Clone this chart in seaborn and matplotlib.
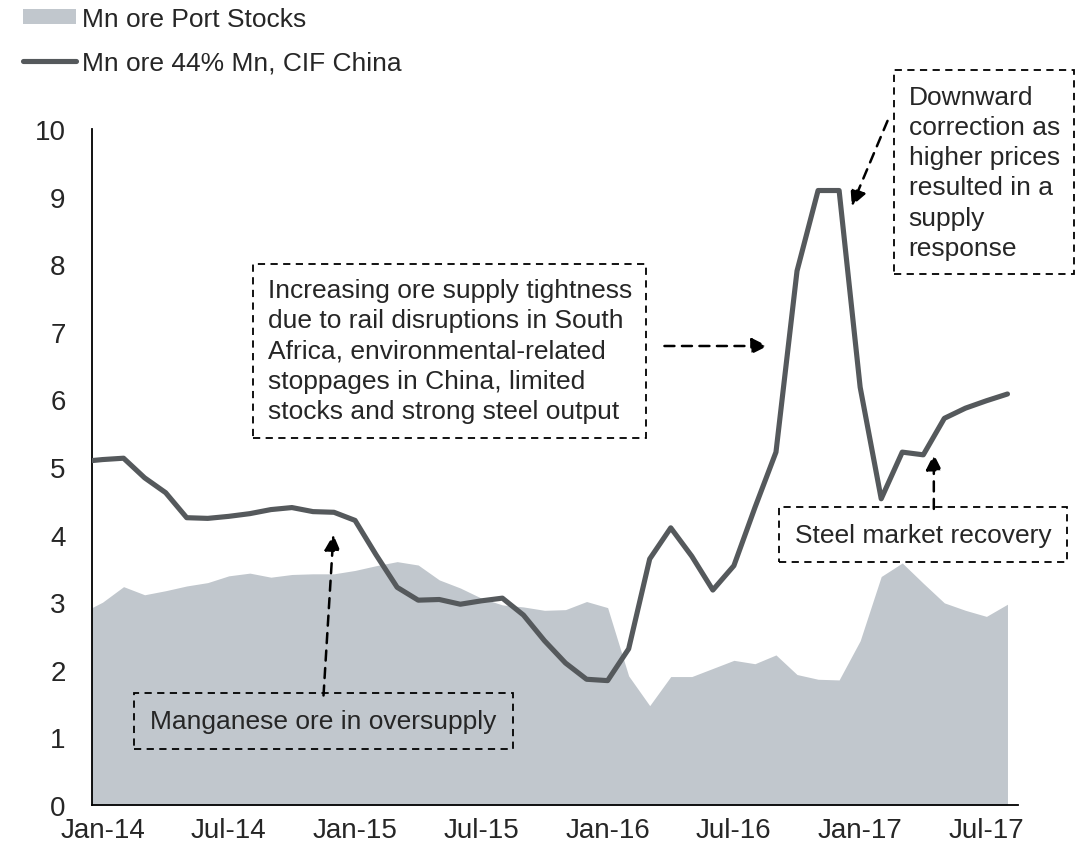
import matplotlib
matplotlib.use("Agg")
import numpy as np
import pandas as pd
import matplotlib.pyplot as plt
import seaborn as sns
from matplotlib.patches import Patch
from matplotlib.lines import Line2D

sns.set_style("white")
plt.rcParams['font.family'] = ['Liberation Sans', 'DejaVu Sans']

# Monthly data, Dec-13 .. Aug-17 (Dec-13 only shows as the clipped left edge)
months = pd.date_range("2013-12-01", "2017-08-01", freq="MS")

port_stocks = [2.84,
               3.00, 3.23, 3.11, 3.17, 3.24, 3.29, 3.39, 3.43, 3.37, 3.41, 3.42, 3.42,
               3.47, 3.54, 3.60, 3.55, 3.33, 3.21, 3.06, 2.96, 2.93, 2.88, 2.89, 3.01,
               2.92, 1.91, 1.47, 1.90, 1.90, 2.02, 2.14, 2.09, 2.22, 1.93, 1.86, 1.85,
               2.43, 3.38, 3.58, 3.28, 2.99, 2.88, 2.79, 2.97]

ore_price = [5.08,
             5.11, 5.13, 4.84, 4.62, 4.25, 4.24, 4.27, 4.31, 4.37, 4.40, 4.34, 4.33,
             4.21, 3.70, 3.22, 3.03, 3.04, 2.97, 3.02, 3.06, 2.81, 2.43, 2.10, 1.86,
             1.84, 2.31, 3.64, 4.10, 3.68, 3.18, 3.54, 4.40, 5.22, 7.90, 9.09, 9.09,
             6.18, 4.53, 5.22, 5.18, 5.72, 5.87, 5.98, 6.08]

tick_labels = ["Jan-14", "Jul-14", "Jan-15", "Jul-15", "Jan-16", "Jul-16", "Jan-17", "Jul-17"]

df = pd.DataFrame({
    "month": months,
    "idx": np.arange(len(months)) - 1,   # Jan-14 -> 0
    "stocks": port_stocks,
    "price": ore_price,
})

area_color = "#C1C7CD"
line_color = "#55595C"

fig = plt.figure(figsize=(10.89, 8.54), dpi=100)
ax = fig.add_axes([92 / 1089, 48 / 854, 926 / 1089, 676 / 854])

ax.fill_between(df["idx"], 0, df["stocks"], color=area_color, lw=0, zorder=1)
sns.lineplot(data=df, x="idx", y="price", ax=ax, color=line_color, lw=3.7,
             zorder=3, legend=False)

ax.set_xlim(-0.5, len(months) - 1.5)
ax.set_ylim(0, 10)
ax.set_xticks(np.arange(0, 43, 6))
ax.set_xticklabels(tick_labels)
ax.set_yticks(range(0, 11))
ax.tick_params(axis="x", length=0, pad=9, labelsize=20)
ax.tick_params(axis="y", length=0, pad=19, labelsize=20)
ax.set_xlabel("")
ax.set_ylabel("")
for s in ["top", "right"]:
    ax.spines[s].set_visible(False)
for s in ["left", "bottom"]:
    ax.spines[s].set_color("black")
    ax.spines[s].set_linewidth(1.3)

# annotations
fs = 19
dash = (0, (4, 3))
box = dict(boxstyle="square,pad=0.6", fc="none", ec="black", ls=dash, lw=1.3)
big_box = dict(boxstyle="square,pad=0.55", fc="none", ec="black", ls=dash, lw=1.3)
arrow = dict(arrowstyle="-|>", color="black", lw=1.8, ls=dash,
             mutation_scale=24, shrinkA=0, shrinkB=0)

ax.text(10.5, 1.24, "Manganese ore in oversupply", fontsize=fs,
        ha="center", va="center", bbox=box, zorder=5)
ax.annotate("", xy=(10.97, 4.0), xytext=(10.5, 1.62), arrowprops=arrow, zorder=5)

ax.text(16.5, 6.72,
        "Increasing ore supply tightness\ndue to rail disruptions in South\n"
        "Africa, environmental-related\nstoppages in China, limited\n"
        "stocks and strong steel output",
        fontsize=fs, ha="center", va="center", multialignment="left",
        linespacing=1.33, bbox=big_box, zorder=5)
ax.annotate("", xy=(31.6, 6.79), xytext=(26.7, 6.79), arrowprops=arrow, zorder=5)

ax.text(41.9, 9.36,
        "Downward\ncorrection as\nhigher prices\nresulted in a\nsupply\nresponse",
        fontsize=fs, ha="center", va="center", multialignment="left",
        linespacing=1.33, bbox=big_box, zorder=5, clip_on=False)
ax.annotate("", xy=(35.6, 8.86), xytext=(37.3, 10.12), arrowprops=arrow,
            zorder=5, annotation_clip=False)

ax.text(39.0, 4.0, "Steel market recovery", fontsize=fs,
        ha="center", va="center", bbox=box, zorder=5)
ax.annotate("", xy=(39.5, 5.19), xytext=(39.5, 4.38), arrowprops=arrow, zorder=5)

handles = [Patch(color=area_color, lw=0),
           Line2D([0], [0], color=line_color, lw=3.7, solid_capstyle="round")]
fig.legend(handles, ["Mn ore Port Stocks", "Mn ore 44% Mn, CIF China"],
           loc="upper left", bbox_to_anchor=(23 / 1089, 1 - 8 / 854), frameon=False,
           fontsize=fs, handlelength=2.0, handleheight=0.5, handletextpad=0.25,
           labelspacing=0.72, borderpad=0, borderaxespad=0)

fig.savefig("out.png", dpi=100)
